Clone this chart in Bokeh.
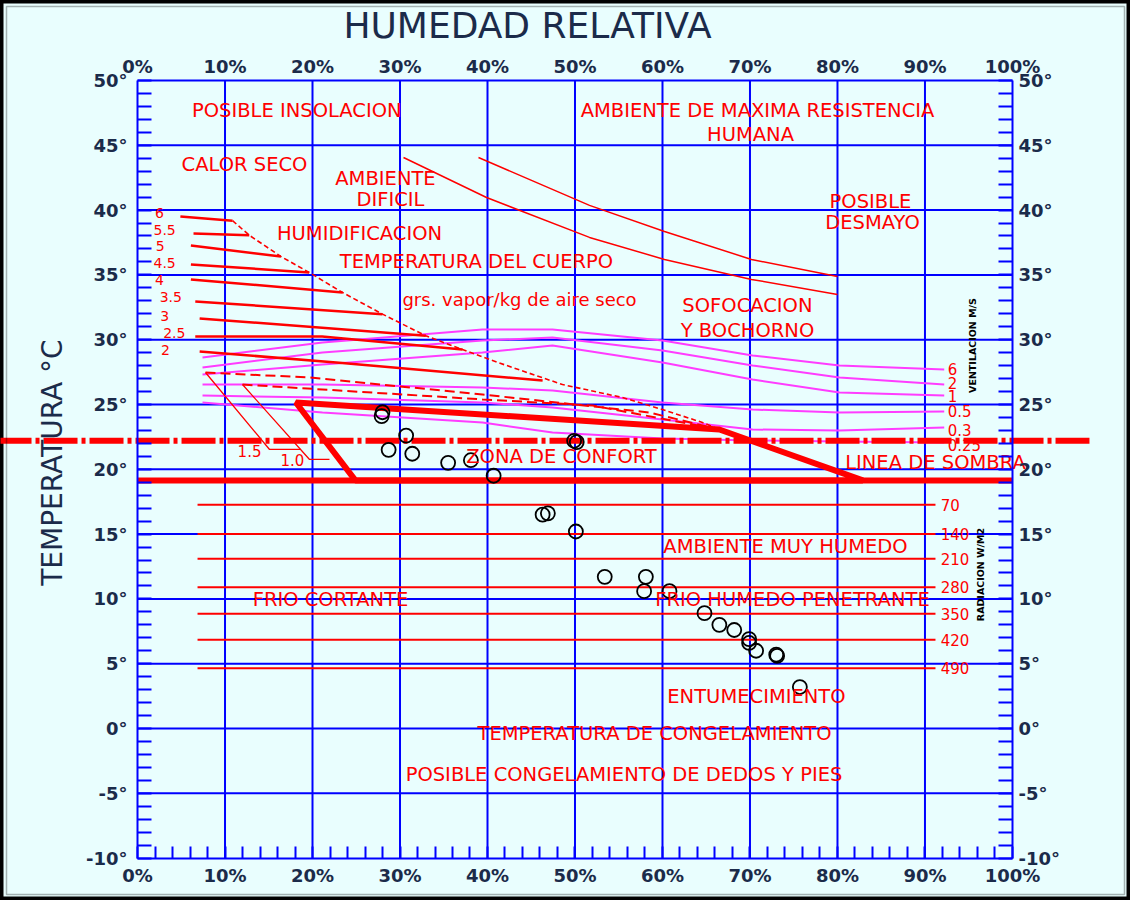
import math
from bokeh.plotting import figure
from bokeh.models import LinearAxis, FixedTicker, Range1d, BoxAnnotation
from bokeh.core.properties import value
from bokeh.embed import file_html
from bokeh.resources import INLINE

# ---------------- data ----------------
RH_TICKS = list(range(0, 101, 10))
RH_MINOR = list(range(0, 101, 2))
T_TICKS = list(range(-10, 51, 5))
T_MINOR = list(range(-10, 51, 1))
RH_TICK_LABELS = [f"{v}%" for v in RH_TICKS]
T_TICK_LABELS = [f"{v}°" for v in T_TICKS]

# observed climate points (RH %, T °C)
OBS_RH = [28.0, 27.9, 30.7, 28.7, 31.4, 35.5, 38.1, 40.7, 49.9, 50.2, 46.3, 46.9,
          50.1, 53.4, 58.1, 57.9, 60.8, 64.8, 66.5, 68.2, 69.9, 69.9, 70.7, 73.0,
          73.1, 75.7]
OBS_T = [24.4, 24.1, 22.6, 21.5, 21.2, 20.5, 20.7, 19.5, 22.2, 22.1, 16.5, 16.6,
         15.2, 11.7, 11.7, 10.6, 10.6, 8.9, 8.0, 7.6, 6.9, 6.6, 6.0, 5.7,
         5.6, 3.2]

# comfort zone
COMFORT_RH = [18.1, 66.5, 82.9, 24.9]
COMFORT_T = [25.15, 23.07, 19.14, 19.14]
SHADE_RH = [0, 100]
SHADE_T = [19.14, 19.14]
DASHDOT_RH = [-16, 108.8]
DASHDOT_T = [22.2, 22.2]

# humidification (grs vapor / kg) lines
VAPOR_LABELS = ["6", "5.5", "5", "4.5", "4", "3.5", "3", "2.5", "2"]
VAPOR_LABEL_RH = [2.5, 3.1, 2.6, 3.1, 2.5, 3.8, 3.1, 4.2, 3.2]
VAPOR_LABEL_T = [39.74, 38.43, 37.19, 35.88, 34.57, 33.26, 31.79, 30.48, 29.24]
VAPOR_RH = [[4.9, 10.86], [6.4, 12.77], [6.1, 16.38], [6.1, 19.62], [6.1, 23.43],
            [6.6, 28.0], [7.1, 32.95], [6.6, 21.1, 37.14], [7.1, 23.4, 46.3]]
VAPOR_T = [[39.51, 39.18], [38.19, 38.06], [37.27, 36.42], [35.8, 35.19], [34.65, 33.64],
           [32.95, 31.97], [31.64, 30.3], [30.25, 30.25, 29.24], [29.09, 28.2, 26.85]]

# evaporative cooling limit (dashed diagonal)
D1_RH = [10.86, 12.77, 16.38, 19.62, 23.43, 28.0, 32.95, 37.14, 40.23, 42.86,
         48.57, 55.43, 60.0, 64.57, 66.51]
D1_T = [39.18, 38.06, 36.42, 35.19, 33.64, 31.97, 30.3, 29.24, 28.47, 27.85,
        26.54, 25.54, 24.61, 23.61, 23.07]

# lower vapor lines 1.5 and 1.0 (dashed) with their leaders
LOW_LABELS = ["1.5", "1.0"]
LOW_LABEL_RH = [12.8, 17.7]
LOW_LABEL_T = [21.45, 20.68]
LOW_RH = [[7.77, 19.66, 39.43, 58.51, 66.51], [12.0, 39.43, 52.0, 66.51]]
LOW_T = [[27.47, 27.08, 25.77, 24.38, 23.07], [26.54, 25.39, 24.92, 23.07]]
LEADER_RH = [[7.77, 15.09, 18.63], [12.0, 19.66, 21.94]]
LEADER_T = [[27.47, 21.53, 21.53], [26.54, 20.76, 20.76]]

# ventilation lines (m/s)
WIND_LABELS = ["6", "2", "1", "0.5", "0.3", "0.25"]
WIND_LABEL_T = [27.7, 26.62, 25.69, 24.46, 23.07, 21.91]
WIND_RH = [7.43, 21.14, 39.43, 47.43, 60.0, 70.29, 80.23, 92.2]
WIND_T = [[28.63, 29.78, 30.79, 30.79, 29.94, 28.78, 28.01, 27.70],
          [27.85, 29.01, 29.94, 30.17, 29.17, 28.01, 27.08, 26.54],
          [27.31, 28.09, 29.01, 29.55, 28.24, 26.93, 25.93, 25.69],
          [26.54, 26.54, 26.31, 26.08, 25.15, 24.61, 24.38, 24.46],
          [25.69, 25.54, 25.15, 24.77, 23.84, 23.07, 22.99, 23.22],
          [25.15, 24.38, 23.61, 22.84, 22.38, 22.22, 22.15, 22.07]]

# radiation lines (W/m2)
RAD_LABELS = ["70", "140", "210", "280", "350", "420", "490"]
RAD_T = [17.26, 15.0, 13.1, 10.9, 8.85, 6.84, 4.65]
RAD_RH = [6.86, 91.2]

# upper thin curves
UPPER_RH = [[38.97, 51.66, 60.23, 70.17, 80.0],
            [30.4, 39.89, 51.66, 60.23, 70.17, 80.0]]
UPPER_T = [[44.06, 40.36, 38.35, 36.19, 34.88],
           [44.06, 40.97, 37.89, 36.19, 34.65, 33.49]]

# zone names
ZONE_TEXT = ["POSIBLE INSOLACION", "AMBIENTE DE MAXIMA RESISTENCIA", "HUMANA",
             "CALOR SECO", "AMBIENTE", "DIFICIL", "POSIBLE", "DESMAYO",
             "HUMIDIFICACION", "TEMPERATURA DEL CUERPO", "SOFOCACION", "Y BOCHORNO",
             "ZONA DE CONFORT", "LINEA DE SOMBRA", "AMBIENTE MUY HUMEDO",
             "FRIO CORTANTE", "FRIO HUMEDO PENETRANTE", "ENTUMECIMIENTO",
             "TEMPERATURA DE CONGELAMIENTO", "POSIBLE CONGELAMIENTO DE DEDOS Y PIES"]
ZONE_RH = [18.2, 70.86, 70.06, 12.23, 28.34, 28.91, 83.77, 84.0, 25.37, 38.74,
           69.71, 69.71, 48.46, 91.2, 74.06, 22.06, 74.86, 70.74, 59.09, 55.6]
ZONE_T = [47.69, 47.69, 45.83, 43.52, 42.44, 40.82, 40.66, 39.04, 38.19, 36.03,
          32.64, 30.71, 20.98, 20.52, 14.04, 9.95, 9.95, 2.47, -0.39, -3.55]
NOTE_TEXT = ["grs. vapor/kg de aire seco"]
NOTE_RH = [43.66]
NOTE_T = [33.1]

SIDE_TEXT = ["VENTILACION M/S", "RADIACION W/M2"]
SIDE_RH = [95.4, 96.3]
SIDE_T = [29.55, 11.88]

TITLE = "HUMEDAD RELATIVA"
Y_TITLE = "TEMPERATURA °C"

# ---------------- styling ----------------
BLUE = "#0000FF"
RED = "#FF0000"
MAGENTA = "#FF3CFF"
NAVY = "#1B2B4A"
BG = "#E9FEFE"
FONT = "DejaVu Sans"

W, H = 1130, 900
p = figure(width=W, height=H, x_range=Range1d(-15.66, 113.49), y_range=Range1d(-13.27, 56.17),
           x_axis_type=None, y_axis_type=None, toolbar_location=None,
           output_backend="svg", title=None, min_border=0)
p.background_fill_color = BG
p.border_fill_color = BG
p.outline_line_color = "black"
p.outline_line_width = 6
p.add_layout(BoxAnnotation(left=6, right=W - 6, top=6, bottom=H - 6,
                           left_units="screen", right_units="screen",
                           top_units="screen", bottom_units="screen",
                           fill_alpha=0, line_color="black", line_width=1.5))

tmin, tmax = T_TICKS[0], T_TICKS[-1]
rmin, rmax = RH_TICKS[0], RH_TICKS[-1]

# grid lines
inner_rh = RH_TICKS[1:-1]
inner_t = T_TICKS[1:-1]
p.segment(x0=inner_rh, y0=[tmin] * len(inner_rh), x1=inner_rh, y1=[tmax] * len(inner_rh),
          line_color=BLUE, line_width=2)
p.segment(x0=[rmin] * len(inner_t), y0=inner_t, x1=[rmax] * len(inner_t), y1=inner_t,
          line_color=BLUE, line_width=2)

# radiation lines
p.segment(x0=[RAD_RH[0]] * len(RAD_T), y0=RAD_T, x1=[RAD_RH[1]] * len(RAD_T), y1=RAD_T,
          line_color=RED, line_width=2)

# upper curves
p.multi_line(xs=UPPER_RH, ys=UPPER_T, line_color=RED, line_width=1.5)

# wind lines
p.multi_line(xs=[WIND_RH] * len(WIND_T), ys=WIND_T, line_color=MAGENTA, line_width=2)

# vapor lines
p.multi_line(xs=VAPOR_RH, ys=VAPOR_T, line_color=RED, line_width=2.5)
p.line(D1_RH, D1_T, line_color=RED, line_width=1.6, line_dash="5 3")
p.multi_line(xs=LOW_RH, ys=LOW_T, line_color=RED, line_width=2, line_dash="10 5")
p.multi_line(xs=LEADER_RH, ys=LEADER_T, line_color=RED, line_width=1.3)

# comfort zone
p.line(SHADE_RH, SHADE_T, line_color=RED, line_width=6)
p.patch(COMFORT_RH, COMFORT_T, fill_color=None, line_color=RED, line_width=6)
p.line(DASHDOT_RH, DASHDOT_T, line_color=RED, line_width=6, line_dash="34 4 4 4")

# observations
p.scatter(OBS_RH, OBS_T, marker="circle", size=14, fill_color=None,
          line_color="black", line_width=1.8)

# texts
p.text(ZONE_RH, ZONE_T, text=ZONE_TEXT, text_font=value(FONT), text_font_size="19.5px",
       text_color=RED, text_align="center", text_baseline="middle")
p.text(NOTE_RH, NOTE_T, text=NOTE_TEXT, text_font=value(FONT), text_font_size="18px",
       text_color=RED, text_align="center", text_baseline="middle")
p.text(VAPOR_LABEL_RH, VAPOR_LABEL_T, text=VAPOR_LABELS, text_font=value(FONT),
       text_font_size="14px", text_color=RED, text_align="center", text_baseline="middle")
p.text(LOW_LABEL_RH, LOW_LABEL_T, text=LOW_LABELS, text_font=value(FONT),
       text_font_size="15px", text_color=RED, text_align="center", text_baseline="middle")
p.text([WIND_RH[-1] + 0.4] * len(WIND_LABELS), WIND_LABEL_T, text=WIND_LABELS,
       text_font=value(FONT), text_font_size="15px", text_color=RED,
       text_align="left", text_baseline="middle")
p.text([RAD_RH[1] + 0.6] * len(RAD_LABELS), RAD_T, text=RAD_LABELS,
       text_font=value(FONT), text_font_size="15px", text_color=RED,
       text_align="left", text_baseline="middle")
p.text(SIDE_RH, SIDE_T, text=SIDE_TEXT, text_font=value(FONT),
       text_font_size="9.5px", text_font_style="bold", text_color="black",
       angle=math.pi / 2, text_align="center", text_baseline="middle")
p.text([44.57], [54.24], text=[TITLE], text_font=value(FONT), text_font_size="36px",
       text_color=NAVY, text_align="center", text_baseline="middle")
p.text([-9.71], [20.52], text=[Y_TITLE], text_font=value(FONT), text_font_size="28px",
       text_color=NAVY, angle=math.pi / 2, text_align="center", text_baseline="middle")

# axes
def style_axis(ax, standoff):
    ax.axis_line_color = BLUE
    ax.axis_line_width = 2
    ax.major_tick_in = 0
    ax.major_tick_out = 0
    ax.minor_tick_out = 0
    ax.minor_tick_line_color = BLUE
    ax.minor_tick_line_width = 2
    ax.major_label_text_font = FONT
    ax.major_label_text_font_size = "18px"
    ax.major_label_text_font_style = "bold"
    ax.major_label_text_color = NAVY
    ax.major_label_standoff = standoff

t_over = dict(zip(T_TICKS, T_TICK_LABELS))
rh_over = dict(zip(RH_TICKS, RH_TICK_LABELS))

left = LinearAxis(fixed_location=rmin, bounds=(tmin, tmax),
                  ticker=FixedTicker(ticks=T_TICKS, minor_ticks=T_MINOR),
                  major_label_overrides=t_over)
style_axis(left, 10)
left.minor_tick_in = 14
p.add_layout(left, "left")

right = LinearAxis(fixed_location=rmax, bounds=(tmin, tmax),
                   ticker=FixedTicker(ticks=T_TICKS, minor_ticks=T_MINOR),
                   major_label_overrides=t_over)
style_axis(right, 6)
right.minor_tick_in = 14
p.add_layout(right, "right")

top = LinearAxis(fixed_location=tmax, bounds=(rmin, rmax),
                 ticker=FixedTicker(ticks=RH_TICKS, minor_ticks=[]),
                 major_label_overrides=rh_over)
style_axis(top, 3)
top.minor_tick_in = 0
p.add_layout(top, "above")

bottom = LinearAxis(fixed_location=tmin, bounds=(rmin, rmax),
                    ticker=FixedTicker(ticks=RH_TICKS, minor_ticks=RH_MINOR),
                    major_label_overrides=rh_over)
style_axis(bottom, 7)
bottom.minor_tick_in = 12
p.add_layout(bottom, "below")

open("out.html", "w").write(file_html(p, INLINE))
